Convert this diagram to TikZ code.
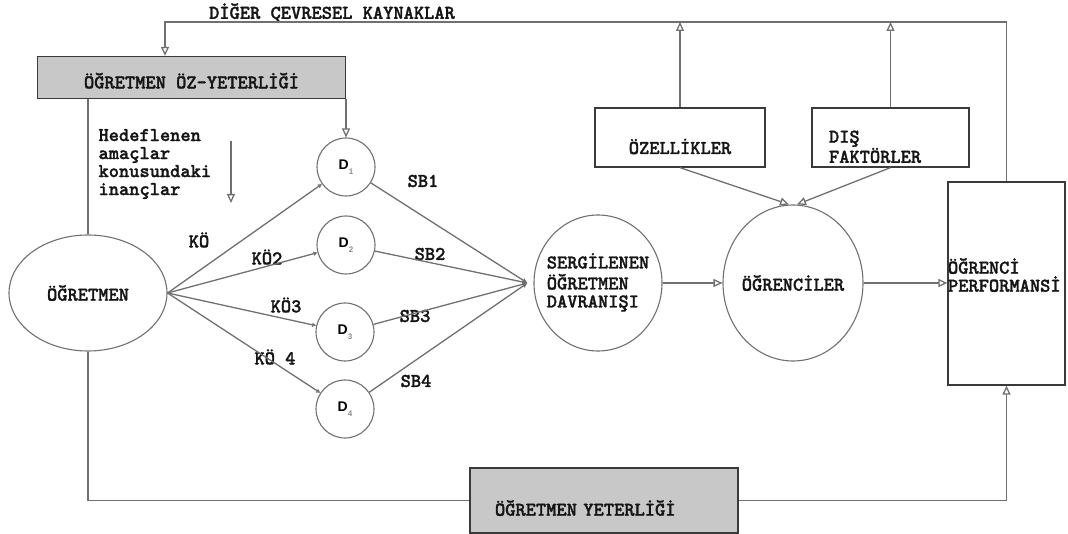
\documentclass[tikz,border=0pt]{standalone}
\usepackage{fontspec}
\newfontfamily\dfont{Liberation Sans}
\newfontfamily\labfont{lmmonolt10-bold.otf}[AutoFakeBold=1.5]
\usetikzlibrary{arrows.meta,shapes.geometric}
\usepackage{xcolor}
\definecolor{LineGray}{HTML}{707070}
\definecolor{BoxEdge}{HTML}{3A3A3A}
\definecolor{BoxFill}{HTML}{C8C8C8}
\definecolor{TextDark}{HTML}{151515}
\definecolor{SubGray}{HTML}{8A8A8A}

\newcommand{\dlabel}[1]{{\dfont\bfseries\fontsize{14}{14}\selectfont D}\raisebox{-5pt}{\dfont\bfseries\fontsize{8}{8}\selectfont\color{SubGray}#1}}

\tikzset{
  lbl/.style={font=\labfont\bfseries\fontsize{19.5}{18}\selectfont, text=TextDark},
  box/.style={draw=BoxEdge, line width=1.3pt, rectangle, inner sep=0pt, lbl},
  graybox/.style={box, fill=BoxFill},
  oval/.style={draw=LineGray, line width=1.1pt, ellipse, inner sep=0pt, lbl},
  dnode/.style={draw=LineGray, line width=1.1pt, circle, minimum size=58pt, inner sep=0pt},
  conn/.style={draw=LineGray, line width=1.3pt},
  bigarrow/.style={conn, -{Triangle[open,length=9pt,width=8pt]}},
  tinyarrow/.style={conn, -{Triangle[open,length=4pt,width=4pt]}},
  dotarrow/.style={conn, -{Latex[length=5pt,width=5pt]}}
}

\begin{document}
\begin{tikzpicture}[x=1pt,y=-1pt]
  \useasboundingbox (0,0) rectangle (1068,534);

  % Boxes
  \node[graybox, minimum width=308pt, minimum height=42pt, text height=21.8pt, text depth=0pt] (ozbox) at (191.5,77.5) {ÖĞRETMEN ÖZ-YETERLİĞİ};
  \node[graybox, minimum width=268pt, minimum height=65pt, inner xsep=25pt, text width=218pt, align=left, text height=30.4pt, text depth=0pt] (yeterlik) at (604,500.5) {ÖĞRETMEN YETERLİĞİ};
  \node[box, minimum width=170pt, minimum height=59pt, text height=33pt, text depth=0pt] (ozellik) at (680,137.5) {ÖZELLİKLER};
  \node[box, minimum width=157pt, minimum height=59pt, inner xsep=17pt, text width=123pt, align=left, text height=32.4pt, text depth=22pt] (dis) at (890.5,137.5) {DIŞ\\FAKTÖRLER};
  \node[box, minimum width=117pt, minimum height=203pt, text width=117pt, align=left, text height=10pt, text depth=29.6pt] (perf) at (1006.5,283.5) {ÖĞRENCİ\\PERFORMANSİ};

  % Ovals
  \node[oval, minimum width=158pt, minimum height=116pt] (ogretmen) at (88,293) {ÖĞRETMEN};
  \node[oval, minimum width=128pt, minimum height=136pt] (sergilenen) at (598,283) {\makebox[0pt]{\begin{tabular}{@{}l@{}}SERGİLENEN\\ÖĞRETMEN\\DAVRANIŞI\end{tabular}}};
  \node[oval, minimum width=140pt, minimum height=156pt] (ogrenciler) at (793,283) {\makebox[0pt]{ÖĞRENCİLER}};

  % D circles
  \node[dnode] (d1) at (346,167) {\dlabel{1}};
  \node[dnode] (d2) at (346,245) {\dlabel{2}};
  \node[dnode] (d3) at (345,332) {\dlabel{3}};
  \node[dnode] (d4) at (345,409) {\dlabel{4}};

  % Texts
  \node[lbl] (title) at (332,13) {DİĞER ÇEVRESEL KAYNAKLAR};
  \node[lbl, anchor=west, align=left] (hedef) at (95,164) {Hedeflenen\\amaçlar\\konusundaki\\inançlar};
  \node[lbl] (ko1) at (199,240) {KÖ};
  \node[lbl] (ko2) at (267,257) {KÖ2};
  \node[lbl] (ko3) at (286,305) {KÖ3};
  \node[lbl] (ko4) at (275,357) {KÖ 4};
  \node[lbl] (sb1) at (423,181) {SB1};
  \node[lbl] (sb2) at (430,254) {SB2};
  \node[lbl] (sb3) at (415,316) {SB3};
  \node[lbl] (sb4) at (416,381) {SB4};

  % Helper points
  \coordinate (topleft) at (165,22);
  \coordinate (hedtop) at (231,141);
  \coordinate (hedbot) at (231,203);
  \coordinate (sin) at ([xshift=-6pt]sergilenen.west);

  % Feedback loop on top
  \draw[bigarrow] (perf.north) |- (topleft) -- (topleft |- ozbox.north);
  \draw[bigarrow] (ozellik.north) -- (ozellik.north |- topleft);
  \draw[bigarrow] (dis.north) -- (dis.north |- topleft);

  % Self-efficacy
  \draw[conn] (ozbox.south -| ogretmen.north) -- (ogretmen.north);
  \draw[bigarrow] (d1.north |- ozbox.south) -- (d1.north);
  \draw[bigarrow] (hedtop) -- (hedbot);

  % Teacher to D and D to behaviour
  \foreach \d in {d1,d2,d3,d4} {
    \draw[tinyarrow] (ogretmen.east) -- (\d);
    \draw[dotarrow] (\d) -- (sin);
  }

  % Behaviour to students to performance
  \draw[bigarrow] (sergilenen) -- (ogrenciler);
  \draw[bigarrow] (ogrenciler) -- (ogrenciler -| perf.west);
  \draw[bigarrow] (ozellik.south) -- ([xshift=-4pt]ogrenciler.north);
  \draw[bigarrow] (dis.south) -- ([xshift=4pt]ogrenciler.north);

  % Competence loop on bottom
  \draw[conn] (ogretmen.south) |- (yeterlik.west);
  \draw[bigarrow] (yeterlik.east) -| (perf.south);
\end{tikzpicture}
\end{document}
